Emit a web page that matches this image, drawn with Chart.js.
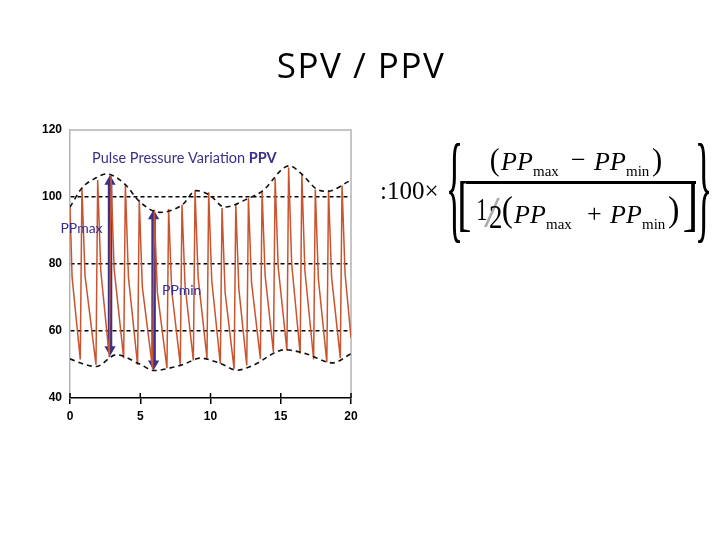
<!DOCTYPE html>
<html>
<head>
<meta charset="utf-8">
<title>SPV / PPV</title>
<script src="https://cdn.jsdelivr.net/npm/chart.js@4.4.1/dist/chart.umd.min.js"></script>
<style>
  html, body { margin: 0; padding: 0; background: #fff; }
  #wrap { width: 720px; height: 540px; }
</style>
</head>
<body>
<div id="wrap"><canvas id="grafico" width="720" height="540"></canvas></div>
<script>
// ---- DATA ----
const xTicks = [0, 5, 10, 15, 20];
const yTicks = [40, 60, 80, 100, 120];
const yGrid = [60, 80, 100];

// arterial pressure trace: troughs, systolic peaks and dicrotic notches
const pressureX = [0, 0.15, 0.73, 0.85, 1.07, 1.85, 1.97, 2.19, 2.80, 2.92, 3.14, 3.82, 3.94, 4.16,
    4.81, 4.93, 5.15, 5.88, 6.00, 6.22, 6.90, 7.02, 7.24, 7.85, 7.97, 8.19, 8.78, 8.90, 9.12,
    9.75, 9.87, 10.09, 10.70, 10.82, 11.04, 11.68, 11.80, 12.02, 12.58, 12.70, 12.92, 13.55,
    13.67, 13.89, 14.48, 14.60, 14.82, 15.44, 15.56, 15.78, 16.38, 16.50, 16.72, 17.34, 17.46,
    17.68, 18.28, 18.40, 18.62, 19.24, 19.36, 19.58, 20];
const pressureY = [97, 76, 51.5, 102.7, 76.5, 49.9, 105.1, 78, 52.2, 106.3, 78.5, 51.9, 103.7, 76,
    49.9, 99.2, 73, 48.7, 96.2, 71.5, 48.9, 96.4, 72, 49.9, 97.7, 73.5, 51.2, 101.9, 76,
    51.9, 101.4, 75, 50.2, 96.7, 71.5, 48.7, 97.7, 72.5, 49.7, 99.6, 74.5, 51.7,
    101.6, 76.5, 53.7, 105.6, 79, 54.2, 108.8, 80, 53.2, 106.6, 78, 51.5, 102.2,
    75.5, 50.7, 102, 76, 51.9, 103.4, 77, 58];

// dashed envelopes
const upperX = [0, 0.85, 1.8, 2.6, 3.94, 4.93, 6.4, 8.0, 8.97, 9.9, 11.0, 12.7, 13.67, 15.6, 16.56, 17.5, 18.3, 20];
const upperY = [97, 102.7, 105.6, 106.9, 103.7, 98.7, 95.4, 97.7, 101.9, 100.7, 97, 99.6, 101.7, 109.3, 106.6, 102.5, 101.7, 105];
const lowerX = [0, 0.9, 1.85, 3.3, 4.93, 6.0, 7.07, 8.0, 9.3, 10.7, 11.9, 13.0, 15.3, 16.8, 18.7, 20];
const lowerY = [51.7, 50.2, 49.4, 52.9, 50.2, 48.2, 48.9, 49.9, 51.9, 50.3, 48.3, 49.7, 54.4, 53.2, 50.5, 53.2];

// double arrows (x, top head, bottom head)
const ppMaxX = 2.85;
const ppMaxY = [104.6, 54.5];
const ppMinX = 5.95;
const ppMinY = [94.3, 50.2];

// labels inside the plot
const notes = [
    { text: "Pulse Pressure Variation ", bold: "PPV", x: 1.57, y: 111.6, size: 14.5 },
    { text: "PPmax", x: -0.68, y: 90.7, size: 14 },
    { text: "PPmin", x: 6.55, y: 72.2, size: 14 }
];

const toPoints = (xs, ys) => xs.map((x, i) => ({ x: x, y: ys[i] }));

// ---- PLUGIN: frame, ticks, labels, title, formula ----
const purple = "#3a2f8a";

function fitText(ctx, txt, left, top, right, bottom, font, color) {
    ctx.save();
    ctx.font = "100px " + font;
    ctx.fillStyle = color || "#000";
    ctx.textAlign = "left";
    ctx.textBaseline = "alphabetic";
    const m = ctx.measureText(txt);
    const w = m.actualBoundingBoxLeft + m.actualBoundingBoxRight;
    const h = m.actualBoundingBoxAscent + m.actualBoundingBoxDescent;
    ctx.translate(left, top);
    ctx.scale((right - left) / w, (bottom - top) / h);
    ctx.fillText(txt, m.actualBoundingBoxLeft, m.actualBoundingBoxAscent);
    ctx.restore();
}

function put(ctx, txt, x, y, font) {
    ctx.font = font;
    ctx.fillText(txt, x, y);
}

const extras = {
    id: "extras",
    beforeDatasetsDraw(chart) {
        const { ctx, chartArea: a } = chart;
        ctx.save();
        ctx.strokeStyle = "#b4b4b4";
        ctx.lineWidth = 1.5;
        ctx.beginPath();
        ctx.moveTo(a.left, a.top);
        ctx.lineTo(a.right, a.top);
        ctx.lineTo(a.right, a.bottom);
        ctx.stroke();
        ctx.restore();
    },
    afterDraw(chart) {
        const { ctx, chartArea: a, scales: { x, y } } = chart;
        ctx.save();

        // upper half of the crossing x ticks
        ctx.strokeStyle = "#000";
        ctx.lineWidth = 1.5;
        xTicks.forEach(v => {
            const px = x.getPixelForValue(v);
            ctx.beginPath();
            ctx.moveTo(px, a.bottom);
            ctx.lineTo(px, a.bottom - 5);
            ctx.stroke();
        });

        // annotations
        ctx.fillStyle = purple;
        ctx.textBaseline = "middle";
        ctx.textAlign = "left";
        notes.forEach(n => {
            const px = x.getPixelForValue(n.x);
            const py = y.getPixelForValue(n.y);
            ctx.font = n.size + "px Lato";
            ctx.fillText(n.text, px, py);
            if (n.bold) {
                const w = ctx.measureText(n.text).width;
                ctx.font = "bold " + n.size + "px Lato";
                ctx.fillText(n.bold, px + w, py);
            }
        });

        // slide title
        ctx.fillStyle = "#000";
        ctx.textAlign = "center";
        ctx.textBaseline = "alphabetic";
        ctx.font = "35px 'Open Sans'";
        ctx.letterSpacing = "1.5px";
        ctx.fillText("SPV / PPV", 361, 78);
        ctx.letterSpacing = "0px";

        // PPV formula
        const serif = "'Liberation Serif'";
        ctx.textAlign = "left";
        put(ctx, ":100×", 380, 199, "25px " + serif);
        fitText(ctx, "{", 449, 143, 460, 243, serif);
        fitText(ctx, "}", 698, 143, 709, 243, serif);

        fitText(ctx, "(", 491, 147, 499, 177, serif);
        put(ctx, "PP", 501, 170, "italic 26px " + serif);
        put(ctx, "max", 533, 176, "15px " + serif);
        put(ctx, "−", 571, 168, "26px " + serif);
        put(ctx, "PP", 594, 170, "italic 26px " + serif);
        put(ctx, "min", 626, 176, "15px " + serif);
        fitText(ctx, ")", 653, 147, 661, 177, serif);

        ctx.fillRect(466, 181, 230, 3);

        fitText(ctx, "[", 460, 182, 470, 232, serif);
        fitText(ctx, "1", 478, 199, 486, 220, serif);
        fitText(ctx, "/", 484, 199, 500, 228, serif, "#aaa");
        fitText(ctx, "2", 490, 206, 501, 228, serif);
        fitText(ctx, "(", 503, 197, 512, 229, serif);
        put(ctx, "PP", 514, 223, "italic 26px " + serif);
        put(ctx, "max", 546, 229, "15px " + serif);
        put(ctx, "+", 587, 222, "26px " + serif);
        put(ctx, "PP", 610, 223, "italic 26px " + serif);
        put(ctx, "min", 642, 229, "15px " + serif);
        fitText(ctx, ")", 669, 197, 678, 229, serif);
        fitText(ctx, "]", 684, 182, 695, 232, serif);

        ctx.restore();
    }
};

// ---- CHART ----
const ctx = document.getElementById("grafico").getContext("2d");
const grafico = new Chart(ctx, {
    type: "line",
    data: {
        datasets: [
            {
                label: "Upper envelope",
                data: toPoints(upperX, upperY),
                borderColor: "#111",
                borderWidth: 1.6,
                borderDash: [5, 4],
                cubicInterpolationMode: "monotone",
                pointRadius: 0
            },
            {
                label: "Lower envelope",
                data: toPoints(lowerX, lowerY),
                borderColor: "#111",
                borderWidth: 1.6,
                borderDash: [5, 4],
                cubicInterpolationMode: "monotone",
                pointRadius: 0
            },
            {
                label: "Arterial pressure",
                data: toPoints(pressureX, pressureY),
                borderColor: "#c9542e",
                borderWidth: 1.5,
                tension: 0,
                pointRadius: 0
            },
            {
                label: "PPmax",
                data: toPoints([ppMaxX, ppMaxX], ppMaxY),
                borderColor: purple,
                backgroundColor: purple,
                borderWidth: 4.5,
                pointStyle: "triangle",
                pointRadius: 6.5,
                pointRotation: [0, 180],
                pointBorderWidth: 0
            },
            {
                label: "PPmin",
                data: toPoints([ppMinX, ppMinX], ppMinY),
                borderColor: purple,
                backgroundColor: purple,
                borderWidth: 4.5,
                pointStyle: "triangle",
                pointRadius: 6.5,
                pointRotation: [0, 180],
                pointBorderWidth: 0
            }
        ]
    },
    options: {
        responsive: false,
        animation: false,
        layout: { padding: { left: 30, right: 369, top: 130, bottom: 112 } },
        plugins: {
            legend: { display: false },
            tooltip: { enabled: false }
        },
        scales: {
            x: {
                type: "linear",
                min: 0,
                max: 20,
                afterFit: s => { s.height = 30; },
                afterBuildTicks: s => { s.ticks = xTicks.map(v => ({ value: v })); },
                ticks: {
                    color: "#000",
                    padding: 5,
                    maxRotation: 0,
                    font: { family: "'Liberation Sans'", size: 12, weight: "bold" }
                },
                grid: { drawOnChartArea: false, color: "#000", lineWidth: 1.5, tickLength: 6 },
                border: { color: "#000", width: 1.5 }
            },
            y: {
                min: 40,
                max: 120,
                afterFit: s => { s.width = 40; },
                afterBuildTicks: s => { s.ticks = yTicks.map(v => ({ value: v })); },
                ticks: {
                    color: "#000",
                    padding: 8,
                    font: { family: "'Liberation Sans'", size: 12, weight: "bold" }
                },
                grid: {
                    drawTicks: false,
                    lineWidth: 1.5,
                    color: c => yGrid.includes(c.tick.value) ? "#000" : "rgba(0,0,0,0)"
                },
                border: { color: "#b4b4b4", width: 1.5, dash: [4, 3] }
            }
        }
    },
    plugins: [extras]
});
</script>
</body>
</html>
